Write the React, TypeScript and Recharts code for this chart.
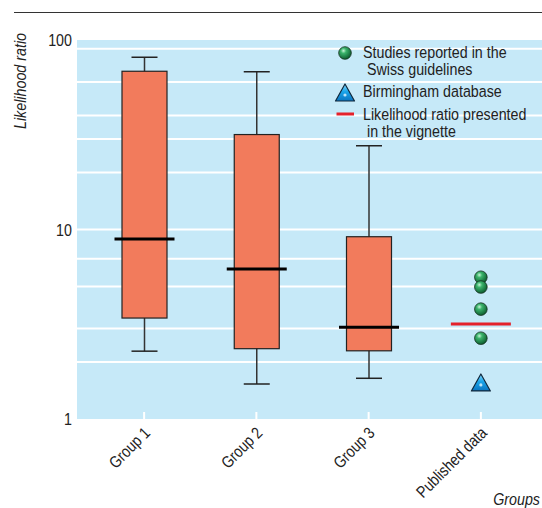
import React from "react";
import {
  ComposedChart,
  Bar,
  Scatter,
  XAxis,
  YAxis,
  CartesianGrid,
  Legend,
} from "recharts";

const groups = ["Group 1", "Group 2", "Group 3", "Published data"];

// box plot values for the three groups
const whiskerLow = [2.28, 1.53, 1.64];
const quartileLow = [3.41, 2.35, 2.29];
const medians = [8.9, 6.19, 3.05];
const quartileHigh = [68.4, 31.7, 9.16];
const whiskerHigh = [81, 68, 27.7];

// published data column
const swissStudies = [5.6, 4.97, 3.8, 2.67];
const birmingham = [1.55];
const vignette = [3.17];

const yTicks = [1, 10, 100];
const gridValues = [2, 3, 4, 5, 6, 7, 8, 9, 10, 20, 30, 40, 50, 60, 70, 80, 90];

const legendLabels = [
  ["Studies reported in the", " Swiss guidelines"],
  ["Birmingham database"],
  ["Likelihood ratio presented", " in the vignette"],
];

const FONT = '"Liberation Sans", Arial, sans-serif';
const BOX_FILL = "#f27b5c";
const BG = "#c6e9f8";
const SQUEEZE = 0.84; // the reference uses a condensed face

const boxData = groups.map((name, i) =>
  i < medians.length
    ? {
        name,
        box: [quartileLow[i], quartileHigh[i]],
        min: whiskerLow[i],
        med: medians[i],
        max: whiskerHigh[i],
      }
    : { name }
);

const toPoints = (values: number[]) =>
  values.map((v) => ({ name: "Published data", v }));

type TextProps = {
  x: number;
  y: number;
  anchor?: "start" | "middle" | "end";
  rotate?: number;
  size?: number;
  italic?: boolean;
  dy?: string;
  children: React.ReactNode;
};

function CondensedText({ x, y, anchor = "start", rotate = 0, size = 17, italic, dy, children }: TextProps) {
  return (
    <text
      transform={`translate(${x} ${y}) rotate(${rotate}) scale(${SQUEEZE} 1)`}
      textAnchor={anchor}
      fontSize={size}
      fontStyle={italic ? "italic" : "normal"}
      fontFamily={FONT}
      fill="#222"
      dy={dy}
      xmlSpace="preserve"
    >
      {children}
    </text>
  );
}

function BoxShape(props: any) {
  const { x, y, width, height, payload } = props;
  if (!payload || !payload.box || !height) return null;
  const [lo, hi] = payload.box;
  // log axis: pixels per decade from the bar's own extent
  const perDecade = height / (Math.log10(hi) - Math.log10(lo));
  const py = (v: number) => y + (Math.log10(hi) - Math.log10(v)) * perDecade;
  const cx = x + width / 2;
  const yMax = py(payload.max);
  const yMin = py(payload.min);
  const yMed = py(payload.med);
  return (
    <g>
      <line x1={cx} x2={cx} y1={yMax} y2={yMin} stroke="#333" strokeWidth={1.5} />
      <line x1={cx - 13} x2={cx + 13} y1={yMax} y2={yMax} stroke="#222" strokeWidth={1.5} />
      <line x1={cx - 13} x2={cx + 13} y1={yMin} y2={yMin} stroke="#222" strokeWidth={1.5} />
      <rect x={x} y={y} width={width} height={height} fill={BOX_FILL} stroke="#222" strokeWidth={1.2} />
      <line x1={cx - 30} x2={cx + 30} y1={yMed} y2={yMed} stroke="#000" strokeWidth={3} />
    </g>
  );
}

function Sphere({ cx, cy, id }: { cx: number; cy: number; id: string }) {
  if (cx == null || cy == null || isNaN(cy)) return null;
  return (
    <g>
      <defs>
        <radialGradient id={id} cx="38%" cy="32%" r="70%">
          <stop offset="0%" stopColor="#c8f5d6" />
          <stop offset="30%" stopColor="#3bb46c" />
          <stop offset="100%" stopColor="#0b5a2d" />
        </radialGradient>
      </defs>
      <circle cx={cx} cy={cy} r={6.3} fill={`url(#${id})`} stroke="#15301f" strokeWidth={0.8} />
    </g>
  );
}

function Triangle({ cx, cy, id }: { cx: number; cy: number; id: string }) {
  if (cx == null || cy == null || isNaN(cy)) return null;
  const top = cy - 9;
  const bottom = cy + 8;
  return (
    <g>
      <defs>
        <linearGradient id={id} x1="0" y1="0" x2="0" y2="1">
          <stop offset="0%" stopColor="#8ad9fb" />
          <stop offset="45%" stopColor="#1aa5ea" />
          <stop offset="100%" stopColor="#0a74c0" />
        </linearGradient>
      </defs>
      <polygon
        points={`${cx},${top} ${cx + 9.5},${bottom} ${cx - 9.5},${bottom}`}
        fill={`url(#${id})`}
        stroke="#10283c"
        strokeWidth={1.2}
        strokeLinejoin="round"
      />
      <circle cx={cx} cy={cy + 2} r={1.6} fill="#e6f7ff" opacity={0.8} />
    </g>
  );
}

function RedBar({ cx, cy }: { cx: number; cy: number }) {
  if (cx == null || cy == null || isNaN(cy)) return null;
  return <line x1={cx - 30} x2={cx + 30} y1={cy} y2={cy} stroke="#e4212b" strokeWidth={3} />;
}

function GroupTick({ x, y, payload }: any) {
  return (
    <g>
      <line x1={x} x2={x} y1={y - 7} y2={y} stroke="#fff" strokeWidth={2} />
      <CondensedText x={x + 7} y={y + 15} anchor="end" rotate={-45} size={16.5}>
        {payload.value}
      </CondensedText>
    </g>
  );
}

function RatioTick({ x, y, payload }: any) {
  return (
    <CondensedText x={x} y={y} anchor="end" size={17} dy="0.36em">
      {payload.value}
    </CondensedText>
  );
}

function LegendBox() {
  return (
    <svg width={212} height={110}>
      <Sphere cx={15} cy={15} id="legendSphere" />
      <CondensedText x={33} y={20}>{legendLabels[0][0]}</CondensedText>
      <CondensedText x={33} y={37}>{legendLabels[0][1]}</CondensedText>
      <Triangle cx={15} cy={55} id="legendTri" />
      <CondensedText x={33} y={59}>{legendLabels[1][0]}</CondensedText>
      <line x1={6.5} x2={24} y1={76} y2={76} stroke="#e4212b" strokeWidth={3} />
      <CondensedText x={33} y={82}>{legendLabels[2][0]}</CondensedText>
      <CondensedText x={33} y={99}>{legendLabels[2][1]}</CondensedText>
    </svg>
  );
}

export default function App() {
  return (
    <div
      style={{
        position: "absolute",
        left: 0,
        top: 0,
        width: 542,
        height: 508,
        background: "#fff",
        fontFamily: FONT,
      }}
    >
      <div
        style={{
          position: "absolute",
          left: 14,
          top: 12,
          width: 528,
          borderTop: "1.5px solid #333",
        }}
      />
      <ComposedChart
        width={542}
        height={508}
        data={boxData}
        margin={{ top: 40, right: 0, bottom: 0, left: 0 }}
      >
        <CartesianGrid
          horizontal
          vertical={false}
          horizontalValues={gridValues}
          fill={BG}
          fillOpacity={1}
          stroke="#fff"
          strokeWidth={2}
          strokeDasharray=""
        />
        <XAxis
          dataKey="name"
          type="category"
          allowDuplicatedCategory={false}
          padding={{ left: 11, right: 5 }}
          height={89}
          axisLine={false}
          tickLine={false}
          tickSize={0}
          tickMargin={0}
          interval={0}
          tick={<GroupTick />}
          label={{
            content: ({ viewBox }: any) => (
              <CondensedText
                x={viewBox.x + viewBox.width - 2}
                y={viewBox.y + 86}
                anchor="end"
                italic
              >
                Groups
              </CondensedText>
            ),
          }}
        />
        <YAxis
          scale="log"
          domain={[1, 100]}
          allowDataOverflow
          ticks={yTicks}
          width={77}
          axisLine={false}
          tickLine={false}
          tickSize={0}
          tickMargin={5}
          tick={<RatioTick />}
          label={{
            content: () => (
              <CondensedText x={26} y={33} anchor="end" rotate={-90} italic>
                Likelihood ratio
              </CondensedText>
            ),
          }}
        />
        <Legend
          layout="horizontal"
          verticalAlign="middle"
          align="center"
          wrapperStyle={{ position: "absolute", left: 330, top: 38, width: 212, height: 110 }}
          content={() => <LegendBox />}
        />
        <Bar
          dataKey="box"
          barSize={45}
          shape={<BoxShape />}
          isAnimationActive={false}
        />
        <Scatter
          data={toPoints(vignette)}
          dataKey="v"
          shape={(p: any) => <RedBar cx={p.cx} cy={p.cy} />}
          isAnimationActive={false}
        />
        <Scatter
          data={toPoints(swissStudies)}
          dataKey="v"
          shape={(p: any) => <Sphere cx={p.cx} cy={p.cy} id={`sphere${p.index}`} />}
          isAnimationActive={false}
        />
        <Scatter
          data={toPoints(birmingham)}
          dataKey="v"
          shape={(p: any) => <Triangle cx={p.cx} cy={p.cy} id={`tri${p.index}`} />}
          isAnimationActive={false}
        />
      </ComposedChart>
    </div>
  );
}
